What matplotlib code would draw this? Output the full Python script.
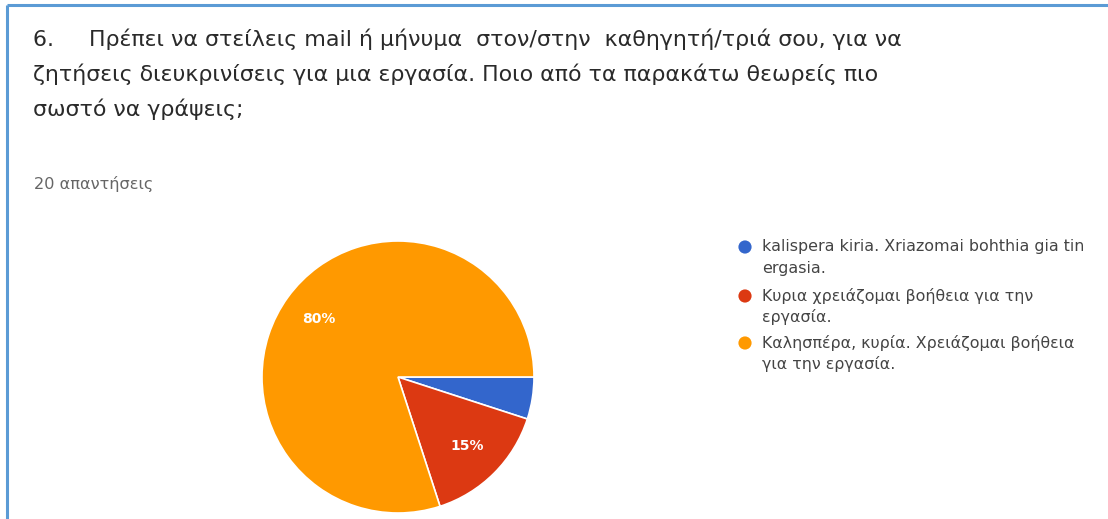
import matplotlib
matplotlib.use("Agg")
import matplotlib.pyplot as plt

# ---- data ----
answers = [
    ["kalispera kiria. Xriazomai bohthia gia tin", "ergasia."],
    ["Κυρια χρειάζομαι βοήθεια για την", "εργασία."],
    ["Καλησπέρα, κυρία. Χρειάζομαι βοήθεια", "για την εργασία."],
]
counts = [1, 3, 16]
colors = ["#3366cc", "#dc3912", "#ff9900"]

question = [
    "6.     Πρέπει να στείλεις mail ή μήνυμα  στον/στην  καθηγητή/τριά σου, για να",
    "ζητήσεις διευκρινίσεις για μια εργασία. Ποιο από τα παρακάτω θεωρείς πιο",
    "σωστό να γράψεις;",
]
responses = "20 απαντήσεις"

W, H = 1108, 519
FONT = "DejaVu Sans"
fig = plt.figure(figsize=(W / 100, H / 100), dpi=100)
fig.patch.set_facecolor("white")

# overlay in pixel coordinates for text, legend and frame
ov = fig.add_axes([0, 0, 1, 1])
ov.set_xlim(0, W)
ov.set_ylim(H, 0)
ov.axis("off")

ov.plot([6.5, 6.5], [4.5, H], color="#5b9bd5", lw=2.2, solid_capstyle="butt")
ov.plot([6.5, W], [4.5, 4.5], color="#5b9bd5", lw=2.2, solid_capstyle="butt")

for i, line in enumerate(question):
    ov.text(33, 39 + 35 * i, line, fontsize=15.9, family=FONT,
            color="#2a2a2a", va="center")
ov.text(34, 184, responses, fontsize=11.6, family=FONT, color="#666666",
        va="center")

# legend
leg_y = [247, 296, 343]
for lines, col, y in zip(answers, colors, leg_y):
    ov.scatter([745], [y], s=90, color=col, edgecolors="none")
    for j, line in enumerate(lines):
        ov.text(762, y + 21 * j, line, fontsize=11.4, family=FONT,
                color="#444444", va="center")

# pie
cx, cy, r = 398, 377, 136
ax = fig.add_axes([(cx - r) / W, (H - cy - r) / H, 2 * r / W, 2 * r / H])
ax.pie(counts, colors=colors, startangle=0, counterclock=False,
       wedgeprops=dict(edgecolor="white", linewidth=1.2),
       autopct=lambda p: f"{p:.0f}%" if p >= 10 else "",
       pctdistance=0.72,
       textprops=dict(color="white", fontsize=10, family=FONT,
                      fontweight="bold"))
ax.set_xlim(-1, 1)
ax.set_ylim(-1, 1)
ax.set_aspect("equal")

fig.savefig("out.png", dpi=100)
